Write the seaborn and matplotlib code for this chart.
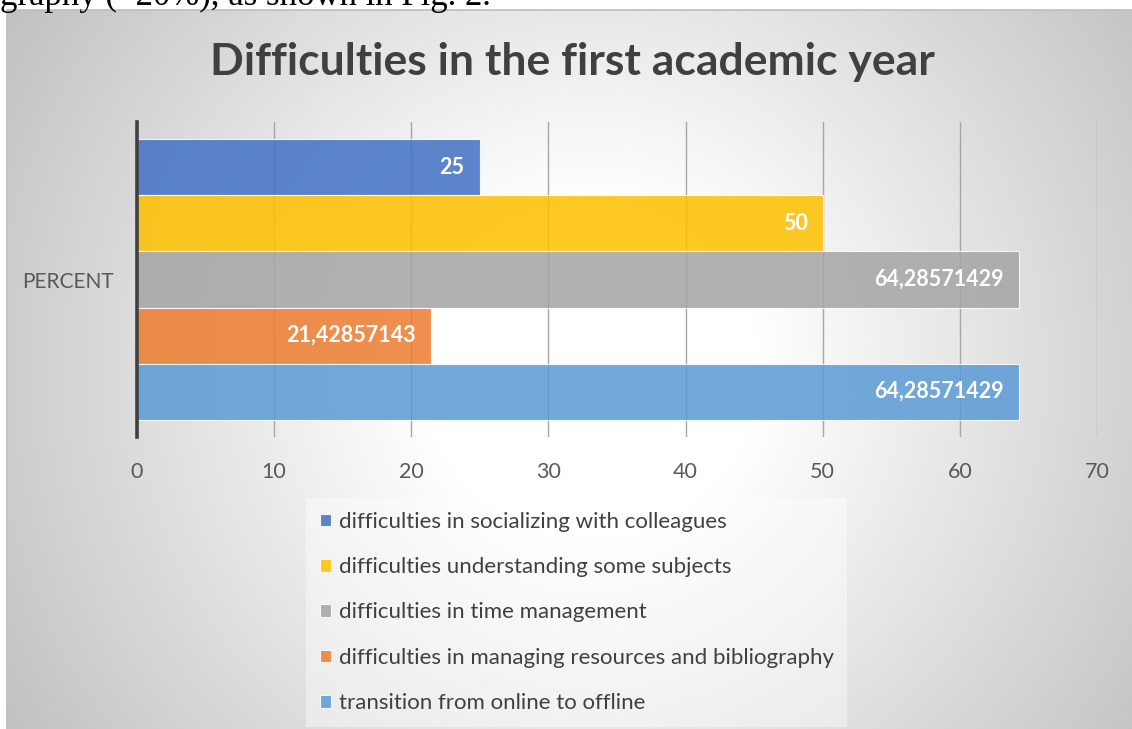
import numpy as np
import pandas as pd
import matplotlib
matplotlib.use("Agg")
import matplotlib.pyplot as plt
from matplotlib.patches import Rectangle
import seaborn as sns

# --- data -------------------------------------------------------------
category = ["PERCENT"]
series = [
    "difficulties in socializing with colleagues",
    "difficulties understanding some subjects",
    "difficulties in time management",
    "difficulties in managing resources and bibliography",
    "transition from online to offline",
]
values = [25, 50, 64.28571429, 21.42857143, 64.28571429]
colors = ["#4472C4", "#FFC000", "#A5A5A5", "#ED7D31", "#5B9BD5"]
x_ticks = [0, 10, 20, 30, 40, 50, 60, 70]
title = "Difficulties in the first academic year"
caption_above = "graphy (~20%), as shown in Fig. 2."

df = pd.DataFrame({
    "category": category * len(series),
    "series": series,
    "value": values,
})

# --- figure -----------------------------------------------------------
sns.set_theme(style="white")
plt.rcParams["font.family"] = ["Lato", "DejaVu Sans"]

W, H = 1132, 729
fig = plt.figure(figsize=(W / 100, H / 100), dpi=100, facecolor="white")

# chart area with a soft radial gradient (white centre, grey edges)
cx0, cy0 = 7, 10          # top-left corner of the chart frame (px)
xs = np.arange(cx0, W)
ys = np.arange(cy0, H)
gx, gy = np.meshgrid(xs, ys)
d = np.hypot(gx - 590, gy - 370)
shade = np.clip(1 - 0.00047 * np.clip(d - 170, 0, None), 0, 1)
rgb = np.dstack([shade, shade, shade])

bg = fig.add_axes([cx0 / W, 0, (W - cx0) / W, (H - cy0) / H], zorder=-10)
bg.imshow(rgb, aspect="auto", interpolation="bilinear")
bg.set_axis_off()
fig.patches.append(Rectangle((cx0 / W, -0.01), 1.0, (H - cy0) / H + 0.01,
                             transform=fig.transFigure, fill=False,
                             edgecolor="#bdbdbd", linewidth=1.2, zorder=-5))

# text line of the surrounding page, cut by the top edge
fig.text(0.0, 1 - 5 / H, caption_above, family="Liberation Serif",
         fontsize=25, color="black", ha="left", va="baseline")

# --- bars ---------------------------------------------------------------
ax = fig.add_axes([137 / W, 1 - 437 / H, 960 / W, 315 / H])
ax.patch.set_alpha(0)

sns.barplot(data=df, x="value", y="category", hue="series",
            hue_order=series, palette=colors, saturation=1, orient="h",
            width=0.889, dodge=True, alpha=0.86,
            edgecolor="white", linewidth=0.8, ax=ax, legend=True)

ax.set_xlim(0, 70)
ax.set_ylim(0.5, -0.5)
ax.set_xticks(x_ticks)
ax.set_xticklabels([str(t) for t in x_ticks])
ax.set_xlabel("")
ax.set_ylabel("")
ax.grid(axis="x", color="#a6a6a6", linewidth=1.0)
ax.grid(axis="y", visible=False)
ax.set_axisbelow(True)
for side in ("top", "right", "bottom"):
    ax.spines[side].set_visible(False)
ax.spines["left"].set_color("#404040")
ax.spines["left"].set_linewidth(2.6)
ax.tick_params(axis="x", length=0, pad=18, labelsize=15.5, labelcolor="#595959")
ax.tick_params(axis="y", length=0, pad=17, labelsize=15, labelcolor="#595959")

# value labels inside the bar ends
for container, v in zip(ax.containers, values):
    bar = container.patches[0]
    end = bar.get_x() + bar.get_width()
    yc = bar.get_y() + bar.get_height() / 2
    txt = f"{v:.10g}".replace(".", ",")
    ax.annotate(txt, (end, yc), xytext=(-11, 0), textcoords="offset points",
                ha="right", va="center", color="white",
                fontsize=15.5, fontweight="bold")

# legend below the plot
handles, labels = ax.get_legend_handles_labels()
ax.get_legend().remove()
leg = fig.legend(handles, labels, loc="upper left",
                 bbox_to_anchor=(306 / W, 1 - 498 / H),
                 bbox_transform=fig.transFigure, borderaxespad=0,
                 fontsize=16, frameon=True, facecolor="white", framealpha=0.4,
                 edgecolor="none", fancybox=False,
                 handlelength=0.5, handleheight=0.5, handletextpad=0.35,
                 labelspacing=1.14, borderpad=0.62)
for t in leg.get_texts():
    t.set_color("#404040")

fig.text(572 / W, 1 - 62 / H, title, ha="center", va="center",
         fontsize=32, fontweight="bold", color="#404040")

fig.savefig("out.png", dpi=100, facecolor="white")
